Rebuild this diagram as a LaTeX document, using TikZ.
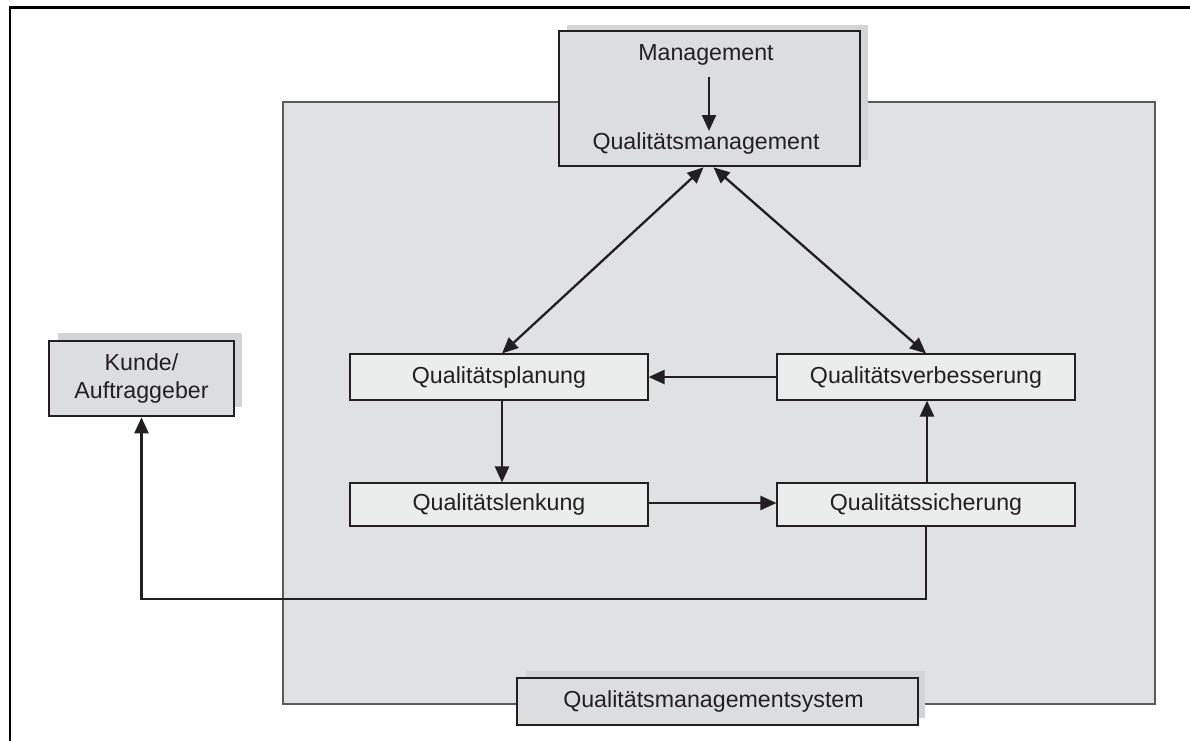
\documentclass[tikz,border=0pt]{standalone}
\usepackage{fontspec}
\setmainfont{Liberation Sans}
\usetikzlibrary{arrows.meta}
\definecolor{ink}{HTML}{231F20}
\definecolor{panel}{HTML}{E0E1E3}
\definecolor{innerfill}{HTML}{EBECEC}
\definecolor{boxfill}{HTML}{DCDDDF}
\definecolor{shadowc}{HTML}{D3D4D6}
\definecolor{panelline}{HTML}{5A5A5C}
\begin{document}
\begin{tikzpicture}[x=1pt,y=-1pt,
  txt/.style={text=ink,font=\fontsize{23.2}{28}\selectfont,inner sep=0pt},
  bigbox/.style={draw=ink,fill=boxfill,line width=2.7pt,inner sep=0pt,txt,align=center},
  smallbox/.style={draw=ink,fill=innerfill,line width=1.1pt,inner sep=0pt,txt,minimum width=298pt},
  arr/.style={draw=ink,line width=2.3pt,-{Triangle[length=16pt,width=14pt]}},
  darr/.style={draw=ink,line width=2.3pt,{Triangle[length=16pt,width=14pt]}-{Triangle[length=16pt,width=14pt]}}
]
\useasboundingbox (0,0) rectangle (1190,740);
\fill[white] (0,0) rectangle (1190,740);
% outer frame
\draw[line width=2.6pt,black] (10,742) -- (10,7.3) -- (1192,7.3);
% panel
\draw[draw=panelline,fill=panel,line width=1.3pt] (283,102) rectangle (1155,704);

% shadows
\fill[shadowc] (567,25) rectangle (868,160);
\fill[shadowc] (58,333) rectangle (242,407);
\fill[shadowc] (526,671) rectangle (925,718);

% management box
\node[bigbox,minimum width=301pt,minimum height=135pt] (qm) at (709.5,98.5) {};
\node[txt] (mgmt) at (706,55) {Management};
\node[txt] (qmtext) at (706,143) {Qualitätsmanagement};
\draw[arr] (709,77) coordinate (ma) -- (709,131) coordinate (mb);

% Kunde
\node[bigbox,minimum width=185pt,minimum height=75pt] (kunde) at (141.5,378.5) {Kunde/\\Auftraggeber};

% System
\node[bigbox,minimum width=401pt,minimum height=47pt,text width=401pt,align=center] (qms) at (717.5,701.5) {\hspace*{-8pt}Qualitätsmanagementsystem};

% inner boxes
\node[smallbox,minimum height=46pt] (plan) at (499,377) {Qualitätsplanung};
\node[smallbox,minimum height=43pt] (lenk) at (499,504.5) {Qualitätslenkung};
\node[smallbox,minimum height=46pt] (verb) at (926,377) {Qualitätsverbesserung};
\node[smallbox,minimum height=43pt] (sich) at (926,504.5) {Qualitätssicherung};

% connectors
\draw[darr] ([xshift=-6pt]qm.south) -- ([xshift=3pt]plan.north);
\draw[darr] ([xshift=4pt]qm.south) -- ([xshift=0pt]verb.north);
\draw[arr] ([xshift=3pt]plan.south) -- ([xshift=3pt]lenk.north);
\draw[arr] (verb.west) -- (plan.east);
\draw[arr] ([yshift=1.5pt]lenk.east) -- ([yshift=1.5pt]sich.west);
\draw[arr] ([xshift=1pt]sich.north) -- ([xshift=1pt]verb.south);
\coordinate (corner) at (926,599);
\draw[arr] (sich.south) -- (corner) -| (kunde.south);
\end{tikzpicture}
\end{document}
